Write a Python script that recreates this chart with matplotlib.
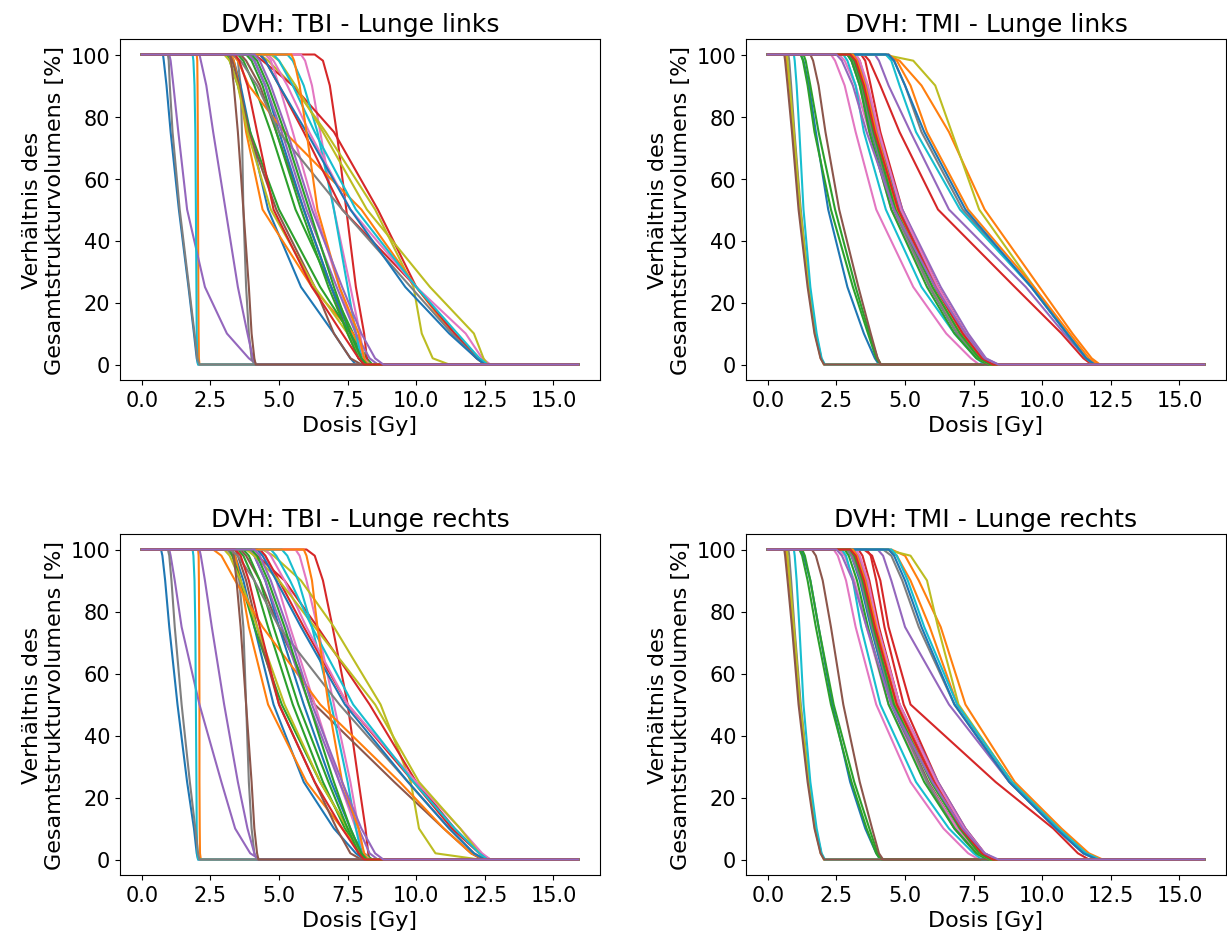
import matplotlib
matplotlib.use("Agg")
import matplotlib.pyplot as plt
from matplotlib.ticker import MultipleLocator

VOL_LEVELS = [100, 98, 90, 75, 50, 25, 10, 2, 0]
DOSE_MAX = 15.9

# --- TBI, Lunge links: dose [Gy] per volume level, in colour-cycle order ---
TBI_LINKS = [
    [0.77, 0.8, 0.9, 1.05, 1.35, 1.7, 1.9, 2.0, 2.05],
    [2.0, 2.02, 2.03, 2.04, 2.05, 2.06, 2.07, 2.08, 2.1],
    [3.5, 3.7, 4.1, 4.7, 5.6, 6.9, 7.7, 8.2, 8.4],
    [6.3, 6.6, 6.85, 7.1, 7.45, 7.8, 8.1, 8.2, 8.25],
    [1.0, 1.05, 1.15, 1.33, 1.65, 2.3, 3.1, 3.9, 4.2],
    [3.6, 3.8, 4.3, 4.9, 5.9, 6.9, 7.5, 7.9, 8.1],
    [5.8, 5.95, 6.2, 6.5, 7.0, 7.6, 7.95, 8.1, 8.15],
    [3.4, 3.5, 3.6, 3.65, 3.7, 3.8, 3.9, 4.0, 4.1],
    [4.3, 4.6, 5.5, 6.7, 8.5, 9.9, 10.2, 10.6, 11.2],
    [1.85, 1.88, 1.92, 1.95, 1.97, 1.99, 2.0, 2.02, 2.05],
    [3.25, 3.35, 3.6, 3.95, 4.6, 5.8, 7.0, 7.6, 7.8],
    [3.25, 3.35, 3.55, 3.8, 4.4, 6.2, 7.7, 8.1, 8.2],
    [3.1, 3.2, 3.5, 3.95, 5.0, 6.5, 7.6, 8.1, 8.3],
    [4.1, 4.4, 5.5, 7.0, 8.6, 10.0, 11.4, 12.3, 12.6],
    [2.1, 2.15, 2.35, 2.6, 3.05, 3.5, 3.85, 4.05, 4.15],
    [3.2, 3.3, 3.55, 3.9, 4.9, 6.3, 7.0, 7.6, 8.0],
    [4.5, 4.7, 5.0, 5.5, 6.3, 7.2, 7.8, 8.1, 8.3],
    [0.95, 0.98, 1.02, 1.12, 1.38, 1.72, 1.92, 2.02, 2.1],
    [3.0, 3.2, 3.5, 3.85, 4.7, 6.3, 7.5, 8.0, 8.3],
    [5.3, 5.5, 5.9, 6.4, 7.0, 7.5, 7.8, 8.0, 8.1],
    [3.9, 4.1, 4.5, 5.0, 5.9, 6.9, 7.6, 8.0, 8.2],
    [3.3, 3.5, 3.9, 5.2, 8.0, 10.0, 11.3, 12.2, 12.6],
    [3.8, 4.0, 4.4, 4.9, 5.8, 6.8, 7.5, 7.9, 8.1],
    [4.3, 4.5, 5.0, 5.9, 7.3, 10.0, 11.4, 12.2, 12.5],
    [3.9, 4.1, 4.5, 5.1, 6.0, 7.1, 7.8, 8.3, 8.6],
    [3.2, 3.25, 3.35, 3.5, 3.7, 3.9, 4.0, 4.1, 4.15],
    [4.6, 4.8, 5.3, 6.1, 7.6, 10.0, 11.8, 12.4, 12.7],
    [3.3, 3.6, 4.2, 5.0, 7.3, 9.8, 11.3, 12.2, 12.5],
    [4.7, 5.0, 5.6, 6.6, 8.2, 10.5, 12.1, 12.45, 12.6],
    [4.8, 5.0, 5.5, 6.3, 7.8, 10.0, 11.5, 12.3, 12.6],
    [4.3, 4.5, 5.0, 6.0, 7.6, 9.6, 11.2, 12.2, 12.5],
    [5.45, 5.55, 5.75, 6.0, 6.4, 7.2, 7.9, 8.1, 8.2],
    [4.0, 4.2, 4.6, 5.2, 6.1, 7.0, 7.6, 8.0, 8.2],
    [3.4, 3.55, 3.85, 4.2, 4.8, 6.2, 7.3, 7.9, 8.1],
    [4.1, 4.3, 4.7, 5.3, 6.2, 7.3, 8.0, 8.5, 8.8],
]

# --- TMI, Lunge links ---
TMI_LINKS = [
    [1.2, 1.3, 1.5, 1.75, 2.2, 2.9, 3.5, 3.9, 4.05],
    [0.65, 0.68, 0.78, 0.92, 1.15, 1.48, 1.72, 1.93, 2.05],
    [1.2, 1.28, 1.45, 1.7, 2.3, 3.1, 3.65, 3.95, 4.1],
    [3.5, 3.7, 4.1, 4.8, 6.2, 9.0, 10.7, 11.5, 11.8],
    [3.9, 4.05, 4.4, 5.2, 6.6, 9.4, 10.8, 11.6, 11.9],
    [2.9, 3.05, 3.4, 3.8, 4.6, 5.9, 6.9, 7.7, 8.1],
    [2.3, 2.45, 2.8, 3.2, 3.95, 5.3, 6.5, 7.4, 7.7],
    [0.75, 0.78, 0.85, 0.97, 1.2, 1.5, 1.75, 1.95, 2.05],
    [0.7, 0.72, 0.8, 0.95, 1.18, 1.5, 1.73, 1.94, 2.05],
    [0.95, 0.98, 1.05, 1.15, 1.3, 1.55, 1.78, 1.96, 2.08],
    [2.9, 3.05, 3.35, 3.75, 4.6, 5.9, 6.9, 7.7, 8.1],
    [4.3, 4.8, 5.6, 6.6, 7.9, 9.9, 11.1, 11.8, 12.1],
    [1.3, 1.38, 1.55, 1.85, 2.45, 3.2, 3.7, 4.0, 4.12],
    [3.2, 3.35, 3.6, 4.0, 4.85, 6.2, 7.2, 7.9, 8.3],
    [3.0, 3.15, 3.5, 3.9, 4.8, 6.2, 7.2, 7.9, 8.3],
    [1.55, 1.65, 1.85, 2.1, 2.6, 3.3, 3.75, 4.0, 4.12],
    [2.6, 2.8, 3.2, 3.7, 4.5, 5.9, 7.0, 7.8, 8.2],
    [2.9, 3.1, 3.4, 3.8, 4.6, 5.9, 6.9, 7.7, 8.1],
    [4.2, 5.3, 6.1, 6.7, 7.7, 9.7, 10.9, 11.6, 11.9],
    [2.75, 2.9, 3.2, 3.5, 4.3, 5.6, 6.8, 7.6, 7.9],
    [3.1, 3.25, 3.55, 3.95, 4.8, 6.1, 7.1, 7.8, 8.2],
    [4.4, 4.7, 5.2, 5.8, 7.3, 9.7, 11.0, 11.7, 12.0],
    [2.9, 3.05, 3.35, 3.7, 4.5, 5.8, 6.8, 7.6, 8.0],
    [3.4, 3.55, 3.75, 4.1, 4.9, 6.2, 7.2, 7.9, 8.3],
    [3.1, 3.3, 3.6, 4.0, 4.9, 6.3, 7.3, 7.95, 8.4],
    [0.6, 0.63, 0.72, 0.88, 1.12, 1.45, 1.7, 1.92, 2.05],
    [3.2, 3.35, 3.65, 4.05, 4.85, 6.2, 7.2, 7.9, 8.3],
    [4.3, 4.6, 5.0, 5.6, 7.1, 9.6, 10.9, 11.6, 11.9],
    [3.0, 3.2, 3.5, 3.9, 4.7, 6.0, 7.0, 7.7, 8.1],
    [4.3, 4.5, 4.8, 5.4, 7.0, 9.6, 10.9, 11.6, 11.9],
    [4.4, 4.6, 5.0, 5.7, 7.2, 9.6, 10.9, 11.6, 11.9],
    [3.1, 3.25, 3.55, 3.95, 4.75, 6.1, 7.1, 7.8, 8.2],
    [3.0, 3.15, 3.45, 3.85, 4.65, 6.0, 7.0, 7.7, 8.1],
    [3.0, 3.2, 3.5, 3.9, 4.75, 6.1, 7.1, 7.8, 8.2],
    [2.5, 2.7, 3.1, 3.6, 4.6, 6.1, 7.2, 7.9, 8.4],
]

# --- TBI, Lunge rechts ---
TBI_RECHTS = [
    [0.7, 0.75, 0.85, 1.0, 1.3, 1.65, 1.9, 2.0, 2.05],
    [2.05, 2.07, 2.08, 2.09, 2.1, 2.1, 2.11, 2.12, 2.15],
    [3.5, 3.7, 4.1, 4.6, 5.5, 6.6, 7.4, 8.0, 8.3],
    [6.0, 6.3, 6.6, 6.95, 7.5, 7.9, 8.15, 8.25, 8.3],
    [1.0, 1.05, 1.2, 1.45, 2.1, 2.9, 3.4, 3.95, 4.3],
    [3.6, 3.8, 4.3, 5.0, 6.3, 9.2, 11.0, 12.0, 12.4],
    [5.6, 5.75, 6.0, 6.4, 7.0, 7.6, 7.9, 8.05, 8.1],
    [3.1, 3.3, 3.55, 3.7, 3.8, 3.9, 4.0, 4.1, 4.2],
    [4.4, 4.8, 5.8, 7.0, 8.7, 9.8, 10.1, 10.7, 12.3],
    [1.85, 1.88, 1.92, 1.95, 1.97, 1.99, 2.0, 2.02, 2.05],
    [3.3, 3.4, 3.7, 4.1, 4.8, 5.9, 7.0, 7.8, 8.1],
    [3.3, 3.4, 3.6, 3.9, 4.6, 6.0, 7.3, 8.0, 8.3],
    [3.2, 3.3, 3.6, 4.1, 5.1, 6.5, 7.5, 8.1, 8.4],
    [3.9, 4.2, 5.2, 6.4, 8.3, 10.0, 11.4, 12.3, 12.7],
    [2.1, 2.15, 2.3, 2.55, 3.0, 3.5, 3.85, 4.1, 4.2],
    [3.4, 3.5, 3.8, 4.2, 5.0, 6.3, 7.1, 7.6, 8.0],
    [4.3, 4.5, 4.9, 5.4, 6.3, 7.2, 7.8, 8.1, 8.3],
    [0.95, 1.0, 1.08, 1.2, 1.45, 1.75, 1.95, 2.05, 2.1],
    [3.0, 3.2, 3.6, 4.2, 5.2, 6.5, 7.5, 8.0, 8.3],
    [5.1, 5.3, 5.7, 6.2, 6.9, 7.5, 7.8, 8.0, 8.1],
    [3.9, 4.1, 4.5, 5.0, 5.9, 6.9, 7.6, 8.0, 8.2],
    [2.6, 2.9, 3.4, 4.4, 6.5, 9.4, 11.0, 12.0, 12.5],
    [3.7, 3.9, 4.3, 4.8, 5.7, 6.8, 7.5, 7.9, 8.2],
    [4.3, 4.5, 5.0, 5.9, 7.5, 9.9, 11.3, 12.3, 12.6],
    [3.9, 4.1, 4.5, 5.1, 6.1, 7.2, 7.9, 8.3, 8.6],
    [3.3, 3.35, 3.45, 3.6, 3.8, 4.0, 4.1, 4.2, 4.25],
    [4.5, 4.7, 5.2, 6.0, 7.5, 10.0, 11.6, 12.4, 12.7],
    [3.2, 3.5, 4.1, 5.0, 7.2, 9.7, 11.2, 12.1, 12.5],
    [3.8, 4.1, 5.0, 6.3, 8.5, 10.1, 11.6, 12.3, 12.5],
    [4.7, 4.9, 5.4, 6.2, 7.7, 9.9, 11.4, 12.3, 12.6],
    [4.2, 4.4, 4.9, 5.8, 7.4, 9.7, 11.2, 12.1, 12.5],
    [5.9, 6.0, 6.2, 6.4, 6.8, 7.3, 7.9, 8.1, 8.2],
    [4.0, 4.2, 4.6, 5.2, 6.1, 7.0, 7.6, 8.0, 8.2],
    [3.4, 3.6, 3.9, 4.3, 5.0, 6.3, 7.3, 7.9, 8.1],
    [4.1, 4.3, 4.7, 5.3, 6.2, 7.3, 8.0, 8.5, 8.8],
]

# --- TMI, Lunge rechts ---
TMI_RECHTS = [
    [1.2, 1.3, 1.55, 1.85, 2.35, 3.0, 3.55, 3.95, 4.1],
    [0.65, 0.68, 0.78, 0.92, 1.15, 1.48, 1.72, 1.93, 2.05],
    [1.15, 1.25, 1.45, 1.75, 2.3, 3.05, 3.6, 3.95, 4.1],
    [3.5, 3.8, 4.1, 4.4, 5.2, 8.3, 10.4, 11.3, 11.7],
    [4.0, 4.2, 4.5, 5.0, 6.6, 8.8, 10.5, 11.5, 12.0],
    [2.9, 3.05, 3.4, 3.8, 4.55, 5.85, 6.9, 7.7, 8.1],
    [2.4, 2.55, 2.85, 3.2, 3.95, 5.2, 6.4, 7.3, 7.7],
    [0.75, 0.78, 0.85, 0.97, 1.2, 1.5, 1.75, 1.95, 2.05],
    [0.7, 0.72, 0.8, 0.95, 1.18, 1.5, 1.73, 1.94, 2.05],
    [0.95, 0.98, 1.05, 1.15, 1.3, 1.55, 1.78, 1.96, 2.08],
    [2.9, 3.05, 3.35, 3.75, 4.5, 5.8, 6.8, 7.6, 8.0],
    [4.5, 5.0, 5.5, 6.3, 7.2, 9.0, 10.7, 11.7, 12.2],
    [1.25, 1.35, 1.55, 1.85, 2.4, 3.15, 3.7, 4.0, 4.15],
    [3.3, 3.45, 3.7, 4.05, 4.8, 6.1, 7.1, 7.8, 8.2],
    [2.9, 3.05, 3.4, 3.8, 4.6, 6.0, 7.0, 7.8, 8.2],
    [1.6, 1.75, 2.0, 2.3, 2.75, 3.35, 3.8, 4.05, 4.2],
    [2.6, 2.8, 3.15, 3.6, 4.4, 5.8, 6.9, 7.7, 8.1],
    [2.9, 3.1, 3.4, 3.8, 4.55, 5.8, 6.8, 7.6, 8.0],
    [4.3, 5.2, 5.8, 6.2, 6.95, 8.9, 10.6, 11.6, 12.1],
    [2.7, 2.85, 3.1, 3.4, 4.1, 5.4, 6.6, 7.5, 7.8],
    [3.1, 3.25, 3.5, 3.9, 4.7, 6.0, 7.0, 7.8, 8.2],
    [4.4, 4.7, 5.2, 5.9, 6.9, 8.9, 10.6, 11.6, 12.1],
    [2.8, 2.95, 3.25, 3.65, 4.4, 5.7, 6.8, 7.6, 8.0],
    [3.6, 3.75, 3.95, 4.25, 4.95, 6.2, 7.2, 7.9, 8.3],
    [3.1, 3.3, 3.6, 4.0, 4.8, 6.2, 7.2, 7.9, 8.3],
    [0.6, 0.63, 0.72, 0.88, 1.12, 1.45, 1.7, 1.92, 2.05],
    [3.2, 3.35, 3.65, 4.0, 4.8, 6.15, 7.15, 7.9, 8.3],
    [4.2, 4.5, 4.9, 5.5, 6.8, 8.8, 10.5, 11.5, 12.0],
    [3.0, 3.2, 3.5, 3.9, 4.65, 6.0, 7.0, 7.7, 8.1],
    [4.5, 4.7, 5.1, 5.7, 6.9, 8.9, 10.6, 11.6, 12.1],
    [4.4, 4.6, 5.0, 5.6, 6.8, 8.8, 10.5, 11.5, 12.0],
    [3.1, 3.25, 3.55, 3.95, 4.7, 6.05, 7.05, 7.8, 8.2],
    [3.0, 3.15, 3.45, 3.85, 4.6, 5.95, 7.0, 7.7, 8.1],
    [3.0, 3.2, 3.5, 3.9, 4.7, 6.05, 7.05, 7.8, 8.2],
    [2.5, 2.7, 3.1, 3.6, 4.5, 6.0, 7.1, 7.9, 8.4],
]

TITLES = ["DVH: TBI - Lunge links", "DVH: TMI - Lunge links",
          "DVH: TBI - Lunge rechts", "DVH: TMI - Lunge rechts"]
PANELS = [TBI_LINKS, TMI_LINKS, TBI_RECHTS, TMI_RECHTS]

W, H = 1227, 937
fig = plt.figure(figsize=(W / 100, H / 100), dpi=100)

# axes boxes in pixels: left, top
boxes = [(120, 40), (746, 40), (120, 535), (746, 535)]
aw, ah = 480, 341

for (left, top), title, curves in zip(boxes, TITLES, PANELS):
    ax = fig.add_axes([left / W, (H - top - ah) / H, aw / W, ah / H])
    for doses in curves:
        x = [0.0] + doses + [DOSE_MAX]
        y = [100] + VOL_LEVELS + [0]
        ax.plot(x, y)
    ax.set_title(title, fontsize=18)
    ax.set_xlabel("Dosis [Gy]", fontsize=16)
    ax.set_ylabel("Verhältnis des\nGesamtstrukturvolumens [%]", fontsize=16)
    ax.xaxis.set_major_locator(MultipleLocator(2.5))
    ax.yaxis.set_major_locator(MultipleLocator(20))
    ax.tick_params(labelsize=15)

fig.savefig("out.png", dpi=100)
